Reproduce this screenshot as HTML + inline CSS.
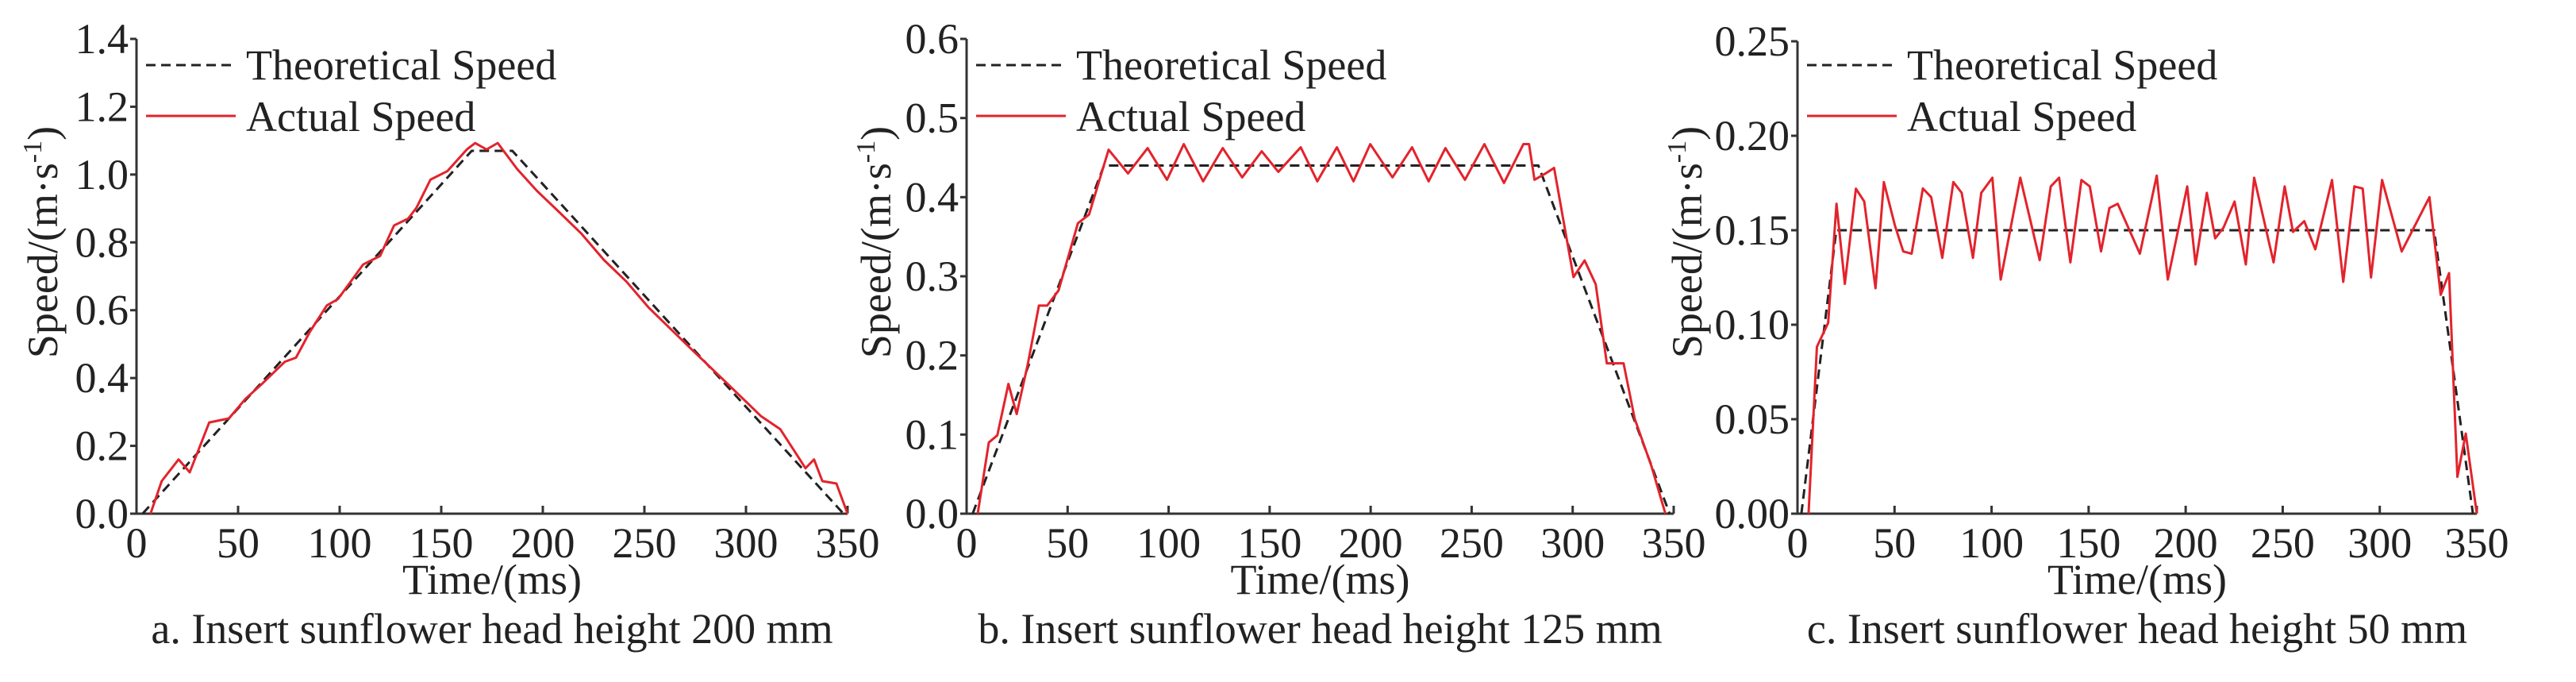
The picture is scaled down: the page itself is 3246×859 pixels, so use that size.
<!DOCTYPE html>
<html><head><meta charset="utf-8"><style>
html,body{margin:0;padding:0;background:#fff;}
svg{display:block;font-family:"Liberation Serif",serif;}
</style></head><body>
<svg id="fig" width="3246" height="859" viewBox="0 0 3246 859" xmlns="http://www.w3.org/2000/svg"></svg>
<script>
const xTicks=[0,50,100,150,200,250,300,350];
const aYTicks=[0,0.2,0.4,0.6,0.8,1.0,1.2,1.4];
const aYLabels=["0.0","0.2","0.4","0.6","0.8","1.0","1.2","1.4"];
const bYTicks=[0,0.1,0.2,0.3,0.4,0.5,0.6];
const bYLabels=["0.0","0.1","0.2","0.3","0.4","0.5","0.6"];
const cYTicks=[0,0.05,0.10,0.15,0.20,0.25];
const cYLabels=["0.00","0.05","0.10","0.15","0.20","0.25"];

const aTheoT=[3,165,185,348];
const aTheoV=[0,1.07,1.07,0];
const aActT=[6.9,12.4,20.7,26.2,35.8,45.5,53.7,62.0,73.0,78.5,85.4,93.7,99.2,111.6,119.9,126.8,133.7,137.8,144.7,153.0,162.6,166.7,172.3,177.8,187.4,197.1,208.1,219.1,230.1,241.2,252.2,263.2,274.2,285.2,296.3,307.3,316.9,323.8,329.3,333.5,337.6,344.5,350];
const aActV=[0,0.096,0.160,0.122,0.269,0.281,0.339,0.384,0.448,0.460,0.537,0.614,0.633,0.735,0.760,0.850,0.870,0.902,0.985,1.010,1.074,1.093,1.074,1.093,1.016,0.952,0.889,0.825,0.748,0.684,0.607,0.543,0.479,0.416,0.352,0.288,0.249,0.185,0.134,0.160,0.096,0.089,0];

const bTheoT=[3,68,283,348];
const bTheoV=[0,0.44,0.44,0];
const bActT=[5.5,11,15.2,20.7,24.8,30.3,35.8,39.9,45.5,55.1,60.6,70.3,79.9,89.6,99.2,107.5,117.1,126.8,136.4,146.1,154.3,165.4,173.6,183.3,191.5,199.8,210.8,220.5,228.7,237.0,246.7,256.3,266.0,275.6,278.4,281.1,286.6,290.8,300.4,305.9,311.4,316.9,325.2,330.7,339.0,345.9];
const bActV=[0,0.09,0.099,0.164,0.126,0.189,0.263,0.263,0.282,0.367,0.378,0.46,0.43,0.462,0.422,0.467,0.42,0.462,0.425,0.458,0.432,0.463,0.42,0.463,0.42,0.467,0.425,0.463,0.42,0.462,0.422,0.467,0.418,0.467,0.467,0.422,0.43,0.437,0.299,0.32,0.29,0.19,0.19,0.12,0.06,0];

const cTheoT=[2,20,328,348];
const cTheoV=[0,0.15,0.15,0];
const cActT=[5.7,10.0,15.8,20.1,24.4,30.1,34.4,40.2,44.5,50.2,54.5,58.8,64.6,68.9,74.6,80.3,84.6,90.4,94.7,100.4,104.7,114.8,124.8,130.5,134.8,140.6,146.3,150.6,156.4,160.7,165.0,176.4,185.1,190.8,200.8,205.1,210.9,215.2,219.5,225.2,231.0,235.3,245.3,251.0,255.3,261.1,266.8,275.4,281.2,286.9,291.2,295.5,301.2,311.3,325.6,331.4,335.7,340.0,344.3,350.0];
const cActV=[0,0.0883,0.1010,0.1640,0.1216,0.1720,0.1652,0.1193,0.1755,0.1525,0.1388,0.1376,0.1721,0.1675,0.1354,0.1755,0.1698,0.1354,0.1698,0.1778,0.1239,0.1778,0.1342,0.1732,0.1778,0.1330,0.1766,0.1732,0.1388,0.1618,0.1640,0.1376,0.1789,0.1239,0.1732,0.1319,0.1698,0.1457,0.1514,0.1652,0.1319,0.1778,0.1330,0.1732,0.1491,0.1548,0.1399,0.1766,0.1227,0.1732,0.1721,0.1250,0.1766,0.1388,0.1675,0.1158,0.1273,0.0195,0.0424,0];

const NS="http://www.w3.org/2000/svg";
const svg=document.getElementById('fig');
const FS='54';
function mk(tag,parent){const e=document.createElementNS(NS,tag);parent.appendChild(e);return e;}

function drawChart(id,x0,x1,yTop,yBot,yMax,yTicks,yLabels,theoT,theoV,actT,actV,caption,titleX){
  const g=mk('g',svg);
  
  
  const sx=t=>x0+(t/350)*(x1-x0);
  const sy=v=>yBot-(v/yMax)*(yBot-yTop);
  const ax=mk('path',g);
  
  
  ax.setAttribute('d',`M${x0},${yTop}V${yBot}H${x1}`);
  ax.setAttribute('stroke','#333');ax.setAttribute('stroke-width','3');ax.setAttribute('fill','none');
  xTicks.forEach(t=>{
    const l=mk('line',g);
    
    
    l.setAttribute('x1',sx(t));l.setAttribute('x2',sx(t));l.setAttribute('y1',yBot);l.setAttribute('y2',yBot-10);
    l.setAttribute('stroke','#333');l.setAttribute('stroke-width','3');
    const tx=mk('text',g);
    
    
    tx.setAttribute('x',sx(t));tx.setAttribute('y',yBot+55);tx.setAttribute('text-anchor','middle');
    tx.setAttribute('font-size',FS);tx.setAttribute('fill','#222');tx.textContent=String(t);
  });
  yTicks.forEach((v,i)=>{
    const l=mk('line',g);
    
    
    l.setAttribute('x1',x0);l.setAttribute('x2',x0-8);l.setAttribute('y1',sy(v));l.setAttribute('y2',sy(v));
    l.setAttribute('stroke','#333');l.setAttribute('stroke-width','3');
    const tx=mk('text',g);
    
    
    tx.setAttribute('x',x0-10);tx.setAttribute('y',sy(v)+18);tx.setAttribute('text-anchor','end');
    tx.setAttribute('font-size',FS);tx.setAttribute('fill','#222');tx.textContent=yLabels[i];
  });
  const th=mk('polyline',g);
  
  
  th.setAttribute('points',theoT.map((t,i)=>sx(t)+','+sy(theoV[i])).join(' '));
  th.setAttribute('fill','none');th.setAttribute('stroke','#222');th.setAttribute('stroke-width','3');th.setAttribute('stroke-dasharray','12 7');
  const ac=mk('polyline',g);
  
  
  ac.setAttribute('points',actT.map((t,i)=>sx(t)+','+sy(actV[i])).join(' '));
  ac.setAttribute('fill','none');ac.setAttribute('stroke','#e3232c');ac.setAttribute('stroke-width','3');ac.setAttribute('stroke-linejoin','round');
  const l1=mk('line',g);
  
  
  l1.setAttribute('x1',x0+12);l1.setAttribute('x2',x0+125);l1.setAttribute('y1',82);l1.setAttribute('y2',82);
  l1.setAttribute('stroke','#222');l1.setAttribute('stroke-width','3');l1.setAttribute('stroke-dasharray','12 7');
  const t1=mk('text',g);
  
  
  t1.setAttribute('x',x0+138);t1.setAttribute('y',100);t1.setAttribute('font-size',FS);t1.setAttribute('fill','#222');
  t1.textContent='Theoretical Speed';
  const l2=mk('line',g);
  
  
  l2.setAttribute('x1',x0+12);l2.setAttribute('x2',x0+125);l2.setAttribute('y1',146);l2.setAttribute('y2',146);
  l2.setAttribute('stroke','#e3232c');l2.setAttribute('stroke-width','3');
  const t2=mk('text',g);
  
  
  t2.setAttribute('x',x0+138);t2.setAttribute('y',165);t2.setAttribute('font-size',FS);t2.setAttribute('fill','#222');
  t2.textContent='Actual Speed';
  const yt=mk('text',g);
  
  
  yt.setAttribute('transform',`translate(${titleX},305) rotate(-90)`);
  yt.setAttribute('text-anchor','middle');yt.setAttribute('font-size',FS);yt.setAttribute('fill','#222');
  yt.innerHTML='Speed/(m·s<tspan font-size="34" dy="-20">-1</tspan><tspan dy="20">)</tspan>';
  const xt=mk('text',g);
  
  
  xt.setAttribute('x',(x0+x1)/2);xt.setAttribute('y',748);xt.setAttribute('text-anchor','middle');
  xt.setAttribute('font-size',FS);xt.setAttribute('fill','#222');xt.textContent='Time/(ms)';
  const cp=mk('text',g);
  
  
  cp.setAttribute('x',(x0+x1)/2);cp.setAttribute('y',810);cp.setAttribute('text-anchor','middle');
  cp.setAttribute('font-size',FS);cp.setAttribute('fill','#222');cp.textContent=caption;
}
drawChart('a',172,1068,49,647,1.4,aYTicks,aYLabels,aTheoT,aTheoV,aActT,aActV,'a. Insert sunflower head height 200 mm',72);
drawChart('b',1218,2109,49,647,0.6,bYTicks,bYLabels,bTheoT,bTheoV,bActT,bActV,'b. Insert sunflower head height 125 mm',1122);
drawChart('c',2265,3121,52,647,0.25,cYTicks,cYLabels,cTheoT,cTheoV,cActT,cActV,'c. Insert sunflower head height 50 mm',2144);
</script>
</body></html>
